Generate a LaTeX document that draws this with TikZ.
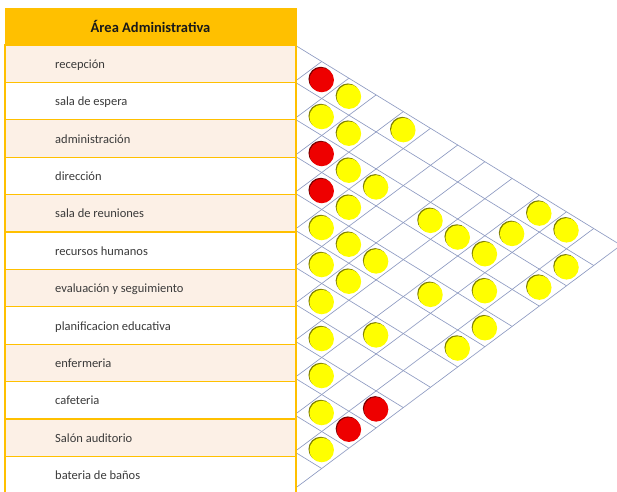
\documentclass[tikz,border=0pt]{standalone}
\usepackage{fontspec}
\setmainfont{Carlito}
\definecolor{gold}{HTML}{FFC000}
\definecolor{peach}{HTML}{FCF0E6}
\definecolor{gridc}{HTML}{8E9BC2}
\definecolor{yel}{HTML}{FFFF00}
\definecolor{redc}{HTML}{EE0000}
\definecolor{txt}{HTML}{3A3A3A}
\tikzset{
  hdrbox/.style={draw=gold, fill=gold, line width=1pt, minimum width=291pt, minimum height=37pt, inner sep=0pt,
    font=\fontsize{14.5}{16}\selectfont\bfseries, text=black!90},
  rowbox/.style={draw=gold, line width=1.3pt, minimum width=291pt, minimum height=37.4pt, inner sep=0pt},
  rowlabel/.style={anchor=base west, inner sep=0pt, font=\fontsize{12.5}{14}\selectfont, text=txt},
  gridline/.style={draw=gridc, line width=0.65pt},
  dot/.style={circle, minimum size=24.5pt, inner sep=0pt, draw=none},
}
\begin{document}
\begin{tikzpicture}[x=1pt,y=-1pt]
\useasboundingbox (0,0) rectangle (617,491);
\clip (0,0) rectangle (617,491);
\fill[white] (0,0) rectangle (617,491);
% table
\node[hdrbox] (hdr) at (150.5,26.5) {Área Administrativa};
\foreach \lab [count=\i] in {recepción, sala de espera, administración, dirección, sala de reuniones, recursos humanos, evaluación y seguimiento, planificacion educativa, enfermeria, cafeteria, Salón auditorio, bateria de baños}{
  \pgfmathsetmacro{\yc}{45+37.4*(\i-0.5)}
  \pgfmathtruncatemacro{\odd}{mod(\i,2)}
  \ifnum\odd=1 \def\fc{peach}\else\def\fc{white}\fi
  \node[rowbox, fill=\fc] (row\i) at (150.5,\yc) {};
  \node[rowlabel] (lab\i) at (55,\yc+4.5) {\lab};
}
% grid (skewed diamond lattice)
\foreach \m in {0,...,11}{
  \draw[gridline] (297,{46.33+37*\m}) -- ({321.7+27.2*(11-\m)},{61.5+37*\m+16.7*(11-\m)});
  \draw[gridline] (297,{79.93+37*\m}) -- ({321.7+27.2*\m},{61.5+37*\m-20.3*\m});
}
% circles: k = column (j-i), i = upper row
\foreach \k/\i/\c [count=\n] in {
  1/1/redc,1/2/yel,1/3/redc,1/4/redc,1/5/yel,1/6/yel,1/7/yel,1/8/yel,1/9/yel,1/10/yel,1/11/yel,
  2/1/yel,2/2/yel,2/3/yel,2/4/yel,2/5/yel,2/6/yel,2/10/redc,
  3/3/yel,3/5/yel,3/7/yel,3/9/redc,
  4/1/yel,
  5/3/yel,5/5/yel,
  6/3/yel,6/6/yel,
  7/3/yel,7/4/yel,7/5/yel,
  8/2/yel,
  9/1/yel,9/3/yel,
  10/1/yel,10/2/yel}{
  \pgfmathsetmacro{\cx}{321.7+27.2*(\k-1)}
  \pgfmathsetmacro{\cy}{80+16.7*(\k-1)+37*(\i-1)}
  \node[dot, fill=\c!50!black] (s\n) at (\cx-1,\cy-1) {};
  \node[dot, fill=\c] (c\n) at (\cx,\cy) {};
}
\end{tikzpicture}
\end{document}
